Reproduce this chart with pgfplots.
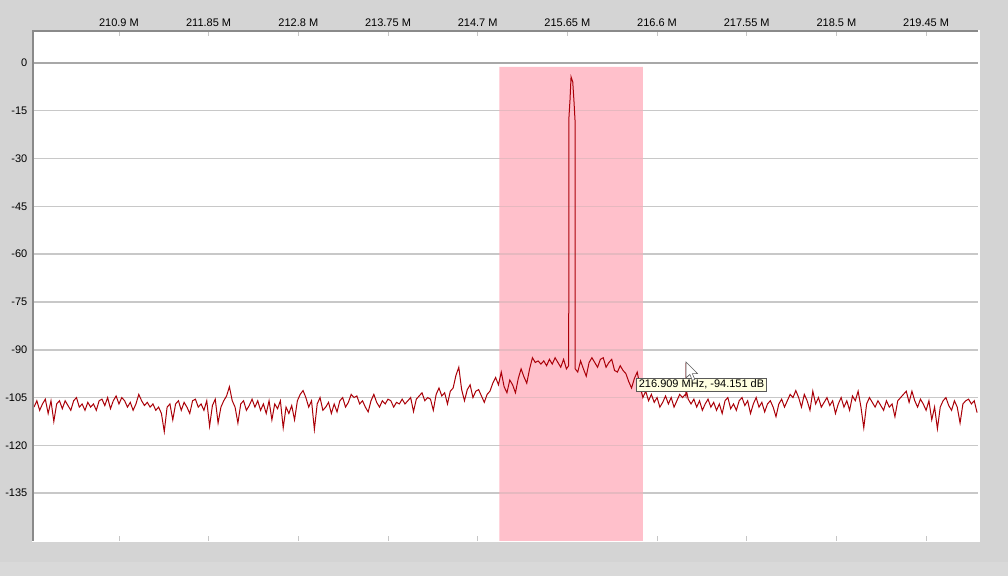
\documentclass[border=0pt]{standalone}
\usepackage{fontspec}
\setmainfont{Liberation Sans}
\usepackage{pgfplots}
\pgfplotsset{compat=1.18}

\definecolor{winbg}{HTML}{D4D4D4}
\definecolor{winbar}{HTML}{D9D9D9}
\definecolor{bandpink}{RGB}{255,192,203}
\definecolor{trace}{RGB}{170,0,8}
\definecolor{gridgray}{HTML}{C8C8C8}
\definecolor{bandgrid}{HTML}{E6B8BF}
\definecolor{zerogray}{HTML}{A8A8A8}
\definecolor{framegray}{HTML}{8A8A8A}
\definecolor{tipfill}{HTML}{FFFFE1}

% standard layers plus the window face underneath everything
\pgfplotsset{
  layers/winlayers/.define layer set={
    winback, axis background, axis grid, axis ticks, axis lines,
    axis tick labels, pre main, main, axis descriptions, axis foreground
  }{},
}

\begin{document}
\begin{tikzpicture}[x=1pt,y=1pt]
\begin{axis}[
    set layers=winlayers,
    clip=false,
    at={(34pt,35pt)}, anchor=south west,
    scale only axis,
    width=944pt, height=510pt,
    xmin=210, xmax=220,
    ymin=-150, ymax=10,
    axis background/.style={fill=white},
    axis line style={draw=none},
    xtick={210.9,211.85,212.8,213.75,214.7,215.65,216.6,217.55,218.5,219.45},
    xticklabels={210.9 M,211.85 M,212.8 M,213.75 M,214.7 M,215.65 M,216.6 M,217.55 M,218.5 M,219.45 M},
    xticklabel pos=upper,
    xtick pos=both,
    tick align=inside,
    major tick length=5pt,
    xtick style={draw=gray!45, line width=0.8pt},
    ytick={-135,-120,-105,-90,-75,-60,-45,-30,-15,0},
    yticklabels={-135,-120,-105,-90,-75,-60,-45,-30,-15,0},
    ytick style={draw=none},
    ymajorgrids,
    grid style={gridgray, line width=1.6pt},
    ticklabel style={font=\fontsize{11}{13}\selectfont, inner sep=0pt},
    yticklabel style={anchor=east, xshift=-6.5pt},
    xticklabel style={anchor=south, yshift=4pt},
]

% window face (the whole 1008x576 page, in axis-relative units)
\begin{pgfonlayer}{winback}
\fill[winbg] (rel axis cs:-0.036017,-0.068627) rectangle (rel axis cs:1.031780,1.060784);
\fill[winbar] (rel axis cs:-0.036017,-0.068627) rectangle (rel axis cs:1.031780,-0.041176);
\end{pgfonlayer}

% highlighted channel band
\addplot[draw=none, fill=bandpink] coordinates {
(214.93,-1.25) (216.45,-1.25) (216.45,-150) (214.93,-150) (214.93,-1.25)
};
% grid lines stay visible through the band
\pgfplotsinvokeforeach{-135,-120,-105,-90,-75,-60,-45,-30,-15}{
  \draw[bandgrid, line width=1.6pt] (axis cs:214.93,#1) -- (axis cs:216.45,#1);
}

\draw[zerogray, line width=2pt] (axis cs:210,0) -- (axis cs:220,0);

% spectrum trace
\addplot[trace, line width=1pt] coordinates {
(210.00,-108) (210.03,-106) (210.06,-109) (210.09,-107) (210.12,-105.5) (210.15,-110) (210.18,-106) (210.21,-112.5) (210.24,-107) (210.27,-106)
(210.30,-108.5) (210.33,-106) (210.36,-107.5) (210.39,-109) (210.42,-106) (210.45,-105) (210.48,-108) (210.51,-107) (210.54,-109) (210.57,-106.5)
(210.60,-108) (210.63,-107) (210.66,-109) (210.69,-106) (210.72,-105.5) (210.75,-107.5) (210.78,-105) (210.81,-108.5) (210.84,-106) (210.87,-104.5)
(210.90,-107) (210.93,-105) (210.96,-106) (210.99,-108) (211.02,-106.5) (211.05,-109) (211.08,-107) (211.11,-104) (211.14,-106) (211.17,-107.5)
(211.20,-106.5) (211.23,-108) (211.26,-107) (211.29,-109) (211.32,-108) (211.35,-110) (211.38,-115.7) (211.41,-108) (211.44,-107) (211.47,-112)
(211.50,-107) (211.53,-106) (211.56,-109) (211.59,-106.5) (211.62,-108) (211.65,-110) (211.68,-106) (211.71,-105.5) (211.74,-108) (211.77,-107)
(211.80,-109) (211.83,-106) (211.86,-114) (211.89,-107.5) (211.92,-105.5) (211.95,-113) (211.98,-108) (212.01,-106) (212.04,-104.5) (212.07,-101.6)
(212.10,-106) (212.13,-108) (212.16,-113) (212.19,-107) (212.22,-106) (212.25,-109) (212.28,-107.5) (212.31,-105.5) (212.34,-108) (212.37,-106)
(212.40,-109) (212.43,-107) (212.46,-110) (212.49,-106) (212.52,-112) (212.55,-107) (212.58,-108.5) (212.61,-106) (212.64,-114.5) (212.67,-108)
(212.70,-110) (212.73,-107.5) (212.76,-112) (212.79,-106) (212.82,-104) (212.85,-102.8) (212.88,-105) (212.91,-108) (212.94,-106) (212.97,-115)
(213.00,-107) (213.03,-105) (213.06,-109) (213.09,-108) (213.12,-106.5) (213.15,-110) (213.18,-107) (213.21,-109.5) (213.24,-106) (213.27,-105)
(213.30,-108) (213.33,-106.5) (213.36,-104) (213.39,-105) (213.42,-104.5) (213.45,-107) (213.48,-106) (213.51,-108) (213.54,-109.5) (213.57,-106)
(213.60,-104) (213.63,-106.5) (213.66,-108) (213.69,-106) (213.72,-107) (213.75,-105.5) (213.78,-106) (213.81,-108) (213.84,-106.5) (213.87,-107)
(213.90,-105.5) (213.93,-107) (213.96,-106) (213.99,-105) (214.02,-109.4) (214.05,-105.5) (214.08,-104.5) (214.11,-103.5) (214.14,-106) (214.17,-105)
(214.20,-105.5) (214.23,-109) (214.26,-104) (214.29,-102) (214.32,-104.5) (214.35,-103.5) (214.38,-107) (214.41,-103) (214.44,-102) (214.47,-98)
(214.50,-95.5) (214.53,-102.5) (214.56,-106) (214.59,-102.5) (214.62,-101) (214.65,-105) (214.68,-103) (214.71,-102.5) (214.74,-104.5) (214.77,-106.5)
(214.80,-104) (214.83,-103) (214.86,-100.5) (214.89,-98.7) (214.92,-101) (214.95,-97) (214.98,-101.6) (215.01,-103.5) (215.04,-99.5) (215.07,-101)
(215.10,-103.5) (215.13,-99) (215.16,-96) (215.19,-98.5) (215.22,-100.5) (215.25,-96) (215.28,-92.5) (215.31,-94) (215.34,-93.5) (215.37,-94.5)
(215.40,-93.5) (215.43,-95) (215.46,-93) (215.49,-94.5) (215.52,-92.5) (215.55,-94) (215.58,-95.5) (215.61,-93) (215.64,-96)
(215.664,-95) (215.667,-17) (215.678,-11.6) (215.689,-4.4) (215.707,-6) (215.720,-12) (215.731,-18) (215.733,-96)
(215.76,-97) (215.79,-93.5) (215.82,-96) (215.85,-98.3) (215.88,-94) (215.91,-92.5) (215.94,-94) (215.97,-95.5)
(216.00,-93) (216.03,-92.5) (216.06,-95.5) (216.09,-94) (216.12,-93) (216.15,-96.5) (216.18,-97) (216.21,-95) (216.24,-96.5) (216.27,-97.5)
(216.30,-100) (216.33,-102) (216.36,-99) (216.39,-97) (216.42,-101.5) (216.45,-105) (216.48,-103) (216.51,-106) (216.54,-104) (216.57,-106.5)
(216.60,-105) (216.63,-108) (216.66,-106.5) (216.69,-104.5) (216.72,-107) (216.75,-105) (216.78,-108) (216.81,-106) (216.84,-104) (216.87,-105)
(216.90,-104) (216.906,-104.5) (216.909,-94.151) (216.912,-103)
(216.93,-105.5) (216.96,-107) (216.99,-105.5) (217.02,-108) (217.05,-106) (217.08,-109) (217.11,-107) (217.14,-105.5) (217.17,-108)
(217.20,-106.5) (217.23,-109) (217.26,-107) (217.29,-110) (217.32,-106) (217.35,-105) (217.38,-108.5) (217.41,-107) (217.44,-109) (217.47,-106)
(217.50,-105) (217.53,-107.5) (217.56,-106) (217.59,-110) (217.62,-107) (217.65,-105) (217.68,-108) (217.71,-106.5) (217.74,-109.5) (217.77,-107)
(217.80,-106) (217.83,-108) (217.86,-111) (217.89,-107) (217.92,-105.5) (217.95,-108) (217.98,-106) (218.01,-104) (218.04,-105) (218.07,-102.8)
(218.10,-105) (218.13,-108) (218.16,-104) (218.19,-106) (218.22,-109) (218.25,-103) (218.28,-107) (218.31,-105) (218.34,-108) (218.37,-106.5)
(218.40,-105) (218.43,-107.5) (218.46,-106) (218.49,-110) (218.52,-107) (218.55,-105) (218.58,-108) (218.61,-106) (218.64,-109) (218.67,-104.5)
(218.70,-106) (218.73,-103) (218.76,-108) (218.79,-114.5) (218.82,-107) (218.85,-105) (218.88,-106.5) (218.91,-108) (218.94,-106) (218.97,-107.5)
(219.00,-109) (219.03,-106) (219.06,-108) (219.09,-107) (219.12,-111) (219.15,-106) (219.18,-105) (219.21,-104) (219.24,-103) (219.27,-106.5)
(219.30,-103) (219.33,-106) (219.36,-108) (219.39,-105.5) (219.42,-107) (219.45,-109) (219.48,-106) (219.51,-112) (219.54,-108) (219.57,-114.8)
(219.60,-108) (219.63,-106) (219.66,-105) (219.69,-107.5) (219.72,-109) (219.75,-106) (219.78,-108) (219.81,-113) (219.84,-107) (219.87,-106)
(219.90,-105.5) (219.93,-107) (219.96,-106) (219.99,-109.7)
};
\end{axis}

% sunken frame of the plot area
\draw[framegray, line width=2pt] (33,34) -- (33,544.5) -- (978,544.5);
\draw[white, line width=1.5pt] (978.8,545.5) -- (978.8,34.3) -- (32,34.3);

% hover tooltip and cursor
\node[draw=gray!70!black, fill=tipfill, line width=0.7pt, anchor=north west,
      inner xsep=2.5pt, inner ysep=2pt, font=\fontsize{11}{13}\selectfont]
      at (636,198.5) {216.909 MHz, -94.151 dB};
\filldraw[fill=white, draw=gray!75!black, line width=0.6pt]
    (686,214) -- ++(0,-16) -- ++(3.8,3.6) -- ++(2.6,-6) -- ++(2.4,1)
    -- ++(-2.5,5.8) -- ++(5.2,0) -- cycle;

\pgfresetboundingbox
\useasboundingbox (0,0) rectangle (1008,576);
\end{tikzpicture}
\end{document}
